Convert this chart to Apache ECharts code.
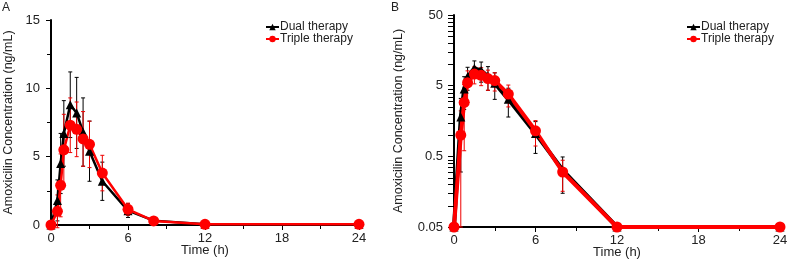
<!DOCTYPE html>
<html lang="en">
<head>
    <meta charset="UTF-8">
    <title>Amoxicilin concentration</title>
    <script src="https://cdn.jsdelivr.net/npm/echarts@6/dist/echarts.min.js"></script>
    <style>
        html, body { margin: 0; padding: 0; background: #fff; }
        #chart { width: 787px; height: 276px; }
    </style>
</head>
<body>
<div id="chart"></div>
<script>
    // sampling times (h)
    var times = [0, 0.5, 0.75, 1, 1.5, 2, 2.5, 3, 4, 6, 8, 12, 24];
    // mean and SD, ng/mL
    var dualMean = [0, 1.8, 4.5, 6.7, 8.8, 8.2, 6.8, 5.4, 3.2, 1.05, 0.32, 0.05, 0.05];
    var dualSd = [0, 1.5, 2.2, 2.4, 2.4, 2.6, 2.5, 2.2, 1.4, 0.5, 0.17, 0, 0];
    var tripleMean = [0, 1.0, 2.9, 5.5, 7.3, 7.0, 6.3, 5.9, 3.8, 1.15, 0.3, 0.05, 0.05];
    var tripleSd = [0, 1.2, 2.3, 2.6, 2.0, 2.0, 2.0, 1.7, 1.3, 0.45, 0.14, 0, 0];
    // axis ticks
    var logTicks = [0.05, 0.5, 5, 50];
    var logMinor = [0.1, 0.15, 0.2, 0.25, 0.3, 0.35, 0.4, 0.45,
        1, 1.5, 2, 2.5, 3, 3.5, 4, 4.5,
        10, 15, 20, 25, 30, 35, 40, 45];

    var LOG_MIN = 0.05;
    var font = 'Liberation Sans, Arial, sans-serif';

    function points(mean, floor) {
        var out = [];
        for (var i = 0; i < times.length; i++) {
            var v = mean[i];
            if (floor && v < floor) v = floor;
            out.push([times[i], v]);
        }
        return out;
    }
    function bars(mean, sd, floor) {
        var out = [];
        for (var i = 0; i < times.length; i++) {
            if (!sd[i]) continue;
            var lo = mean[i] - sd[i];
            var hi = mean[i] + sd[i];
            if (floor && lo < floor) lo = floor;
            out.push([times[i], lo, hi]);
        }
        return out;
    }
    function errRender(color) {
        return function (params, api) {
            var top = api.coord([api.value(0), api.value(2)]);
            var bot = api.coord([api.value(0), api.value(1)]);
            var w = 2;
            var st = { stroke: color, lineWidth: 1 };
            return {
                type: 'group',
                children: [
                    { type: 'line', shape: { x1: top[0], y1: top[1], x2: bot[0], y2: bot[1] }, style: st },
                    { type: 'line', shape: { x1: top[0] - w, y1: top[1], x2: top[0] + w, y2: top[1] }, style: st },
                    { type: 'line', shape: { x1: bot[0] - w, y1: bot[1], x2: bot[0] + w, y2: bot[1] }, style: st }
                ]
            };
        };
    }

    var axisLine = { lineStyle: { color: '#000', width: 2 } };
    var tick = { length: 5, lineStyle: { color: '#000', width: 1 } };
    var ylabel = { color: '#222', fontSize: 13, fontFamily: font, margin: 11 };

    function xAxis(grid) {
        return {
            type: 'value', gridIndex: grid, min: 0, max: 24, interval: 6,
            name: 'Time (h)', nameLocation: 'middle', nameGap: 19, nameMoveOverlap: false,
            nameTextStyle: { color: '#222', fontSize: 13, fontFamily: font },
            axisLine: axisLine, axisTick: tick,
            minorTick: { show: true, splitNumber: 2, length: 4, lineStyle: { color: '#000' } },
            axisLabel: { color: '#222', fontSize: 13, fontFamily: font, margin: 7 },
            splitLine: { show: false }
        };
    }
    var yName = 'Amoxicilin Concentration (ng/mL)';
    var yNameStyle = { color: '#222', fontSize: 12.5, fontFamily: font };

    function lineSeries(name, x, y, data, color, symbol, size, width) {
        return {
            name: name, type: 'line', xAxisIndex: x, yAxisIndex: y, data: data,
            symbol: symbol, symbolSize: size, showSymbol: true,
            itemStyle: { color: color }, lineStyle: { color: color, width: width },
            animation: false, z: 3
        };
    }
    function errSeries(name, x, y, data, color) {
        return {
            name: name + ' SD', type: 'custom', xAxisIndex: x, yAxisIndex: y, data: data,
            itemStyle: { color: color },
            renderItem: errRender(color), animation: false, z: 2
        };
    }
    function legend(left) {
        return {
            left: left, top: 21, orient: 'vertical', itemGap: 0, padding: 0,
            itemWidth: 13, itemHeight: 8,
            textStyle: { color: '#222', fontSize: 12, fontFamily: font, padding: [0, 0, 0, -4] },
            data: ['Dual therapy', 'Triple therapy']
        };
    }

    var chart = echarts.init(document.getElementById('chart'));
    var option = {
        backgroundColor: '#fff',
        graphic: [
            { type: 'text', left: 2, top: 2, style: { text: 'A', fontSize: 12, fontFamily: font, fill: '#222' } },
            { type: 'text', left: 391, top: 2, style: { text: 'B', fontSize: 12, fontFamily: font, fill: '#222' } }
        ],
        legend: [legend(265), legend(686)],
        grid: [
            { left: 51, right: 428, top: 20, bottom: 51, outerBoundsMode: 'none' },
            { left: 454, right: 7, top: 15, bottom: 49, outerBoundsMode: 'none' }
        ],
        xAxis: [xAxis(0), xAxis(1)],
        yAxis: [
            {
                type: 'value', gridIndex: 0, min: 0, max: 15, interval: 5,
                name: yName, nameLocation: 'middle', nameGap: 36, nameMoveOverlap: false,
                nameTextStyle: yNameStyle,
                axisLine: axisLine, axisTick: tick,
                minorTick: { show: true, splitNumber: 2, length: 4, lineStyle: { color: '#000' } },
                axisLabel: ylabel, splitLine: { show: false }
            },
            {
                type: 'log', gridIndex: 1, min: 0.05, max: 50, logBase: 10,
                name: yName, nameLocation: 'middle', nameGap: 49, nameMoveOverlap: false,
                nameTextStyle: yNameStyle,
                axisLine: axisLine,
                axisTick: { show: true, length: 6, customValues: logTicks, lineStyle: { color: '#000' } },
                axisLabel: { color: '#222', fontSize: 13, fontFamily: font, margin: 11, customValues: logTicks },
                splitLine: { show: false }
            }
        ],
        series: [
            lineSeries('Dual therapy', 0, 0, points(dualMean), '#000', 'triangle', 9, 2.5),
            lineSeries('Triple therapy', 0, 0, points(tripleMean), '#f00', 'circle', 11, 2.5),
            errSeries('Dual therapy', 0, 0, bars(dualMean, dualSd), '#000'),
            errSeries('Triple therapy', 0, 0, bars(tripleMean, tripleSd), '#e00'),

            lineSeries('Dual therapy', 1, 1, points(dualMean, LOG_MIN), '#000', 'triangle', 9, 4),
            lineSeries('Triple therapy', 1, 1, points(tripleMean, LOG_MIN), '#f00', 'circle', 11, 4),
            errSeries('Dual therapy', 1, 1, bars(dualMean, dualSd, LOG_MIN), '#000'),
            errSeries('Triple therapy', 1, 1, bars(tripleMean, tripleSd, LOG_MIN), '#e00')
        ]
    };
    chart.setOption(option);

    // minor ticks of the log axis, placed with the axis' own scale
    var x0 = chart.convertToPixel({ xAxisIndex: 1 }, 0);
    var minorTicks = [];
    for (var i = 0; i < logMinor.length; i++) {
        var y = Math.round(chart.convertToPixel({ yAxisIndex: 1 }, logMinor[i])) + 0.5;
        minorTicks.push({
            type: 'line', z: 100, silent: true,
            shape: { x1: x0 - 6, y1: y, x2: x0, y2: y },
            style: { stroke: '#000', lineWidth: 1 }
        });
    }
    chart.setOption({
        graphic: option.graphic.concat([{ type: 'group', children: minorTicks }])
    });
</script>
</body>
</html>
